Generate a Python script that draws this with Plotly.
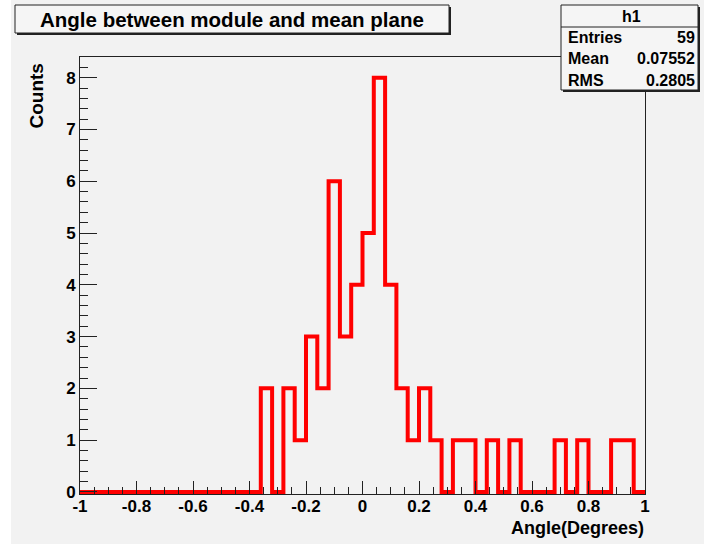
import plotly.graph_objects as go

# ---- data ----
bin_low = -1.0
bin_width = 0.04
counts = [0, 0, 0, 0, 0, 0, 0, 0, 0, 0, 0, 0, 0, 0, 0, 0,
          2, 0, 2, 1, 3, 2, 6, 3, 4, 5, 8, 4, 2, 1, 2, 1,
          0, 1, 1, 0, 1, 0, 1, 0, 0, 0, 1, 0, 1, 0, 0, 1, 1, 0]
x_tickvals = [-1, -0.8, -0.6, -0.4, -0.2, 0, 0.2, 0.4, 0.6, 0.8, 1]
x_ticktext = ["-1", "-0.8", "-0.6", "-0.4", "-0.2", "0", "0.2", "0.4", "0.6", "0.8", "1"]
y_tickvals = [0, 1, 2, 3, 4, 5, 6, 7, 8]
title_text = "Angle between module and mean plane"
stats_name = "h1"
stats_labels = ["Entries", "Mean", "RMS"]
stats_values = ["59", "0.07552", "0.2805"]
x_title = "Angle(Degrees)"
y_title = "Counts"

edges = [round(bin_low + bin_width * i, 6) for i in range(len(counts) + 1)]
y_step = counts + [counts[-1]]

# ---- layout geometry (pixels) ----
W, H = 704, 544
L, R, T, B = 80, 645, 57, 494
FONT = "Liberation Sans"


def px(x):
    return (x - L) / (R - L)


def py(y):
    return (B - y) / (B - T)


fig = go.Figure()
fig.add_trace(go.Scatter(x=edges, y=y_step, mode="lines", line_shape="hv",
                         line=dict(color="#ff0000", width=4),
                         hoverinfo="skip", showlegend=False))

axis_common = dict(showgrid=False, zeroline=False, showline=True, mirror=True,
                   linecolor="#222222", linewidth=1, ticks="inside",
                   tickcolor="#222222", tickwidth=1,
                   tickfont=dict(family=FONT, size=17, color="black", weight="bold"))

fig.update_xaxes(range=[-1, 1], tickmode="array", tickvals=x_tickvals,
                 ticktext=x_ticktext, ticklen=13, ticklabelstandoff=-3,
                 minor=dict(dtick=0.05, tick0=-1, ticks="inside", ticklen=7,
                            tickcolor="#222222", tickwidth=1),
                 **axis_common)
fig.update_yaxes(range=[-0.04, 8.4], tickmode="array", tickvals=y_tickvals,
                 ticklen=17, ticklabelstandoff=0,
                 minor=dict(dtick=0.2, tick0=0, ticks="inside", ticklen=8,
                            tickcolor="#222222", tickwidth=1),
                 **axis_common)

shapes = []
# white left strip
shapes.append(dict(type="rect", xref="paper", yref="paper", layer="below",
                   x0=px(0), x1=px(11), y0=py(0), y1=py(H),
                   fillcolor="white", line=dict(width=0)))


def box(x0, y0, x1, y1, shadow=2):
    shapes.append(dict(type="rect", xref="paper", yref="paper", layer="above",
                       x0=px(x0 + shadow), x1=px(x1 + shadow),
                       y0=py(y0 + shadow), y1=py(y1 + shadow),
                       fillcolor="#222222", line=dict(width=0)))
    shapes.append(dict(type="rect", xref="paper", yref="paper", layer="above",
                       x0=px(x0), x1=px(x1), y0=py(y0), y1=py(y1),
                       fillcolor="#f5f5f5", line=dict(color="#222222", width=1)))


box(15, 5, 449, 33)
box(561, 5, 698, 90)
shapes.append(dict(type="line", xref="paper", yref="paper", layer="above",
                   x0=px(561), x1=px(698), y0=py(27), y1=py(27),
                   line=dict(color="#222222", width=1)))

ann = []


def text(s, x, y, size, xanchor="center", yanchor="middle", angle=0):
    ann.append(dict(text=s, x=px(x), y=py(y), xref="paper", yref="paper",
                    showarrow=False, xanchor=xanchor, yanchor=yanchor,
                    textangle=angle,
                    font=dict(family=FONT, size=size, color="black", weight="bold")))


text(title_text, 232, 19, 20.5)
text(stats_name, 631, 16.5, 16)
rows_y = [37.5, 59, 80.5]
for lab, val, yy in zip(stats_labels, stats_values, rows_y):
    text(lab, 566, yy, 16, xanchor="left")
    text(val, 697, yy, 16, xanchor="right")
text(x_title, 646, 528, 18, xanchor="right")
text(y_title, 36, 62, 19, yanchor="top", angle=-90)

fig.update_layout(width=W, height=H, margin=dict(l=L, r=W - R, t=T, b=H - B),
                  paper_bgcolor="#f2f2f2", plot_bgcolor="#f2f2f2",
                  shapes=shapes, annotations=ann, showlegend=False)

fig.write_html("out.html")
